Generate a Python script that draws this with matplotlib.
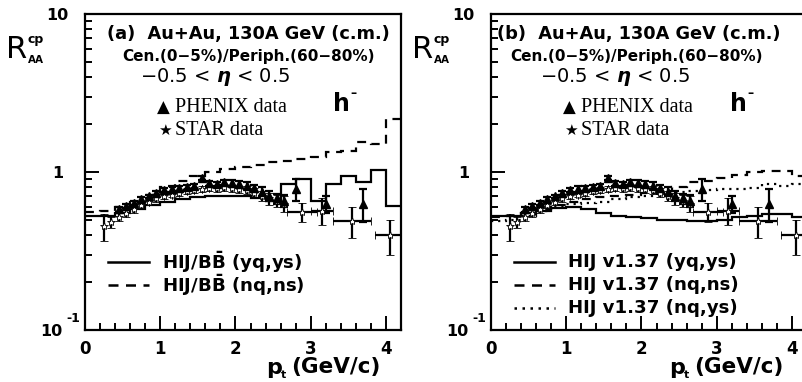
import matplotlib.pyplot as plt
import numpy as np

W, H = 803, 382

# bin edges of the model histograms (pt, GeV/c)
pt_edges = [0.0, 0.2, 0.4, 0.6, 0.8, 1.0, 1.2, 1.4, 1.6, 1.8, 2.0,
            2.2, 2.4, 2.6, 2.8, 3.0, 3.2, 3.4, 3.6, 3.8, 4.0, 4.2]

# panel (a) HIJING/BBbar
bb_yq_ys = [0.53, 0.53, 0.55, 0.58, 0.62, 0.65, 0.67, 0.69, 0.70, 0.71, 0.70,
            0.68, 0.66, 0.84, 0.90, 0.655, 0.84, 0.94, 0.86, 1.03, 0.61]
bb_nq_ns = [0.56, 0.57, 0.60, 0.65, 0.72, 0.80, 0.88, 0.95, 1.00, 1.04, 1.07,
            1.10, 1.16, 1.17, 1.20, 1.24, 1.34, 1.36, 1.55, 1.50, 2.15]

# panel (b) HIJING v1.37
hij_yq_ys = [0.53, 0.53, 0.55, 0.57, 0.59, 0.60, 0.58, 0.55, 0.53, 0.52, 0.51,
             0.50, 0.50, 0.49, 0.49, 0.50, 0.52, 0.53, 0.54, 0.54, 0.52]
hij_nq_ns = [0.52, 0.53, 0.55, 0.58, 0.62, 0.65, 0.67, 0.69, 0.70, 0.72, 0.74,
             0.76, 0.80, 0.87, 0.88, 0.92, 0.96, 1.00, 1.01, 1.01, 0.94]
hij_nq_ys = [0.49, 0.50, 0.53, 0.57, 0.61, 0.63, 0.64, 0.65, 0.67, 0.69, 0.71,
             0.73, 0.75, 0.76, 0.77, 0.78, 0.78, 0.79, 0.84, 0.82, 0.84]

# PHENIX h- data
phx_pt = [0.45, 0.55, 0.65, 0.75, 0.85, 0.95, 1.05, 1.15, 1.25, 1.35, 1.45, 1.55, 1.65,
          1.75, 1.85, 1.95, 2.05, 2.15, 2.25, 2.35, 2.45, 2.55, 2.65, 2.80, 3.20, 3.70]
phx_r = [0.58, 0.61, 0.64, 0.67, 0.70, 0.74, 0.77, 0.78, 0.79, 0.80, 0.81, 0.92, 0.85,
         0.84, 0.86, 0.85, 0.84, 0.82, 0.79, 0.75, 0.71, 0.68, 0.66, 0.78, 0.63, 0.63]
phx_err = [0.02, 0.02, 0.02, 0.02, 0.02, 0.02, 0.02, 0.03, 0.03, 0.03, 0.03, 0.03, 0.03,
           0.03, 0.03, 0.04, 0.04, 0.04, 0.04, 0.05, 0.05, 0.05, 0.06, 0.12, 0.08, 0.15]

# STAR h- data
star_pt = [0.25, 0.35, 0.45, 0.55, 0.65, 0.75, 0.85, 0.95, 1.05, 1.15, 1.25, 1.35, 1.45,
           1.55, 1.65, 1.75, 1.85, 1.95, 2.05, 2.15, 2.25, 2.35, 2.45, 2.55, 2.65,
           2.88, 3.15, 3.55, 4.05]
star_r = [0.455, 0.48, 0.52, 0.55, 0.58, 0.62, 0.65, 0.68, 0.70, 0.72, 0.74, 0.76, 0.77,
          0.78, 0.79, 0.79, 0.80, 0.79, 0.78, 0.77, 0.74, 0.71, 0.68, 0.66, 0.63,
          0.56, 0.57, 0.49, 0.40]
star_err = [0.09, 0.04, 0.03, 0.03, 0.03, 0.03, 0.03, 0.03, 0.03, 0.03, 0.03, 0.03, 0.03,
            0.03, 0.03, 0.04, 0.04, 0.04, 0.04, 0.04, 0.05, 0.05, 0.06, 0.06, 0.07,
            0.08, 0.11, 0.11, 0.10]
star_xerr = [0, 0, 0, 0, 0, 0, 0, 0, 0, 0, 0, 0, 0,
             0, 0, 0, 0, 0, 0, 0, 0, 0, 0, 0, 0,
             0.2, 0.15, 0.25, 0.2]

SANS = 'DejaVu Sans'
SERIF = 'Liberation Serif'
plt.rcParams['font.family'] = SANS
plt.rcParams['font.weight'] = 'bold'


def fx(x):
    return x / W


def fy(y):
    return 1 - y / H


fig = plt.figure(figsize=(W / 100, H / 100), dpi=100)

panels = [
    dict(left=85, tag='(a)', models=[(bb_yq_ys, '-', 'HIJ/B$\\mathbf{\\bar{B}}$ (yq,ys)'),
                                     (bb_nq_ns, '--', 'HIJ/B$\\mathbf{\\bar{B}}$ (nq,ns)')],
         tx=dict(title=107, cen=122, eta=140, h=333, leg=157, rl=6, x_lab=266)),
    dict(left=491, tag='(b)', models=[(hij_yq_ys, '-', 'HIJ v1.37 (yq,ys)'),
                                      (hij_nq_ns, '--', 'HIJ v1.37 (nq,ns)'),
                                      (hij_nq_ys, ':', 'HIJ v1.37 (nq,ys)')],
         tx=dict(title=497, cen=510, eta=540, h=730, leg=563, rl=412, x_lab=669)),
]

styles = {'-': dict(ls='-'), '--': dict(ls=(0, (4, 3))), ':': dict(ls=(0, (1, 2.2)))}

for p in panels:
    left = p['left']
    ax = fig.add_axes([fx(left), fy(330), 316 / W, (330 - 14) / H])
    ax.set_yscale('log')
    ax.set_xlim(0, 4.2)
    ax.set_ylim(0.1, 10)
    for s in ax.spines.values():
        s.set_linewidth(1.6)

    for vals, ls, lab in p['models']:
        ax.stairs(vals, pt_edges, baseline=None, color='k', lw=1.6, **styles[ls])

    ax.errorbar(star_pt, star_r, yerr=star_err, xerr=star_xerr, fmt='*', color='k',
                ms=6, mec='k', mfc='white', mew=0.6, elinewidth=1.6, capsize=3, capthick=1.6)
    ax.errorbar(phx_pt, phx_r, yerr=phx_err, fmt='^', color='k', ms=6,
                elinewidth=1.6, capsize=3, capthick=1.6)

    ax.set_xticks([0, 1, 2, 3, 4])
    ax.set_xticks(np.arange(0.2, 4.2, 0.2), minor=True)
    ax.set_yticks([0.1, 1, 10])
    ax.set_yticklabels(['', '', ''])
    ax.tick_params(which='both', direction='in', top=False, right=False, width=1.4)
    ax.tick_params(which='major', length=10, labelsize=12)
    ax.tick_params(which='minor', length=5)
    ax.tick_params(axis='x', pad=7)

    tx = p['tx']
    # y tick labels (ROOT style)
    fig.text(fx(left - 17), fy(15), '10', fontsize=11.5, ha='right', va='center')
    fig.text(fx(left - 22), fy(173), '1', fontsize=11.5, ha='right', va='center')
    fig.text(fx(left - 23), fy(332), '10', fontsize=11.5, ha='right', va='center')
    fig.text(fx(left - 12), fy(318), '-1', fontsize=9, ha='center', va='center')

    # axis titles
    fig.text(fx(tx['rl']), fy(50), 'R', fontsize=22, fontweight='normal', ha='left', va='center')
    fig.text(fx(tx['rl'] + 22), fy(40), 'cp', fontsize=9, ha='left', va='center')
    fig.text(fx(tx['rl'] + 22), fy(60), 'AA', fontsize=7.5, ha='left', va='center')
    fig.text(fx(tx['x_lab']), fy(368), 'p', fontsize=16, ha='left', va='center')
    fig.text(fx(tx['x_lab'] + 15), fy(375), 't', fontsize=8, ha='left', va='center')
    fig.text(fx(tx['x_lab'] + 25), fy(367.5), '(GeV/c)', fontsize=15.5, ha='left', va='center')

    # annotations
    fig.text(fx(tx['title']), fy(34), p['tag'] + '  Au+Au, 130A GeV (c.m.)', fontsize=12.8,
             ha='left', va='center')
    fig.text(fx(tx['cen']), fy(56), 'Cen.(0\u22125%)/Periph.(60\u221280%)', fontsize=11,
             ha='left', va='center')
    fig.text(fx(tx['eta']), fy(77), '\u22120.5 < $\\eta$ < 0.5', fontsize=14,
             fontweight='normal', ha='left', va='center')
    fig.text(fx(tx['h']), fy(104), 'h', fontsize=17, ha='left', va='center')
    fig.text(fx(tx['h'] + 17), fy(93), '\u2013', fontsize=9, ha='left', va='center')
    fig.text(fx(tx['leg']), fy(108), '\u25B2', fontsize=12, ha='left', va='center')
    fig.text(fx(tx['leg'] + 18), fy(108), 'PHENIX data', fontsize=14.5, fontweight='normal',
             family=[SERIF, 'DejaVu Sans'], ha='left', va='center')
    fig.text(fx(tx['leg'] + 1), fy(130), '\u2605', fontsize=11, ha='left', va='center')
    fig.text(fx(tx['leg'] + 18), fy(130), 'STAR data', fontsize=14.5, fontweight='normal',
             family=[SERIF, 'DejaVu Sans'], ha='left', va='center')

    # line legend
    for i, (vals, ls, lab) in enumerate(p['models']):
        yy = 262 + 23 * i
        x0 = left + 23
        fig.add_artist(plt.Line2D([fx(x0), fx(x0 + 41)], [fy(yy), fy(yy)], color='k', lw=1.8,
                                  **styles[ls]))
        fig.text(fx(x0 + 54), fy(yy), lab, fontsize=13.1, ha='left', va='center')

fig.savefig('out.png', dpi=100)
